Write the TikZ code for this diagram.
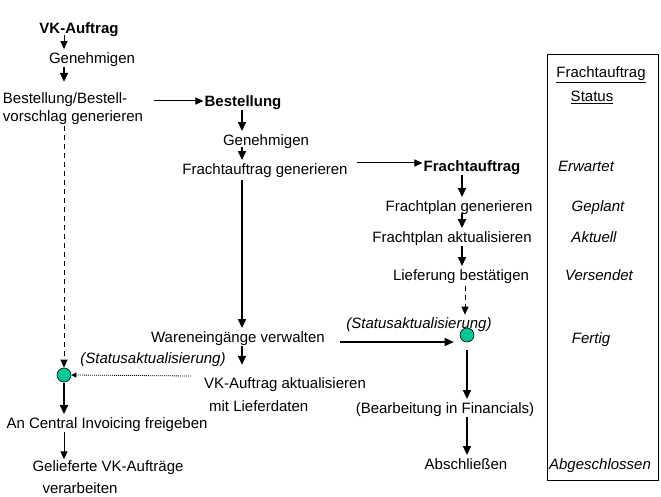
\documentclass[tikz,border=0pt]{standalone}
\usepackage{fontspec}
\setmainfont{Liberation Sans}
\usetikzlibrary{arrows.meta,calc}
\begin{document}
\begin{tikzpicture}[x=1pt,y=-1pt,
  every node/.style={font=\fontsize{15}{18}\selectfont, inner sep=1pt, text height=13.5pt, text depth=2pt},
  multi/.style={align=left, text height=, text depth=},
  bld/.style={font=\fontsize{15}{18}\selectfont\bfseries},
  itl/.style={font=\fontsize{15}{18}\selectfont\itshape},
  dot/.style={circle, fill={rgb,255:red,0;green,200;blue,150}, draw=black, line width=0.6pt, minimum size=14pt, inner sep=0pt, text height=, text depth=},
  arr/.style={line width=1.6pt, -{Triangle[width=8pt,length=9pt]}},
  sarr/.style={line width=1pt, -{Triangle[width=7pt,length=8pt]}},
  dasharr/.style={line width=1pt, dash pattern=on 5pt off 4pt, -{Triangle[width=7pt,length=8pt]}},
  dotarr/.style={line width=0.8pt, dash pattern=on 1pt off 1pt, -{Triangle[width=5pt,length=5pt]}}
]
\useasboundingbox (0,0) rectangle (661,497);
\coordinate (colA) at (64,0);
\coordinate (colB) at (242,0);
\coordinate (colC) at (462,0);

% left column
\node[bld] (vk) at (79,28) {VK-Auftrag};
\node (gen1) at (92,58) {Genehmigen};
\node[multi] (best) at (73,109) {Bestellung/Bestell-\\vorschlag generieren};
\node[dot] (c1) at (64,375) {};
\node (ci) at (107,423) {An Central Invoicing freigeben};
\node[multi] (gv) at (108,477) {Gelieferte VK-Aufträge\\[4pt]\hspace*{10pt}verarbeiten};

% middle column
\node[bld] (bst) at (243,101) {Bestellung};
\node (gen2) at (266,140) {Genehmigen};
\node (fg) at (265,169) {Frachtauftrag generieren};
\node (we) at (238,337) {Wareneingänge verwalten};
\node[multi] (vka) at (285,395) {VK-Auftrag aktualisieren\\[5pt]\hspace*{5pt}mit Lieferdaten};
\node[itl] (sl1) at (153,358) {(Statusaktualisierung)};

% right column
\node[bld] (fa) at (472,166) {Frachtauftrag};
\node (fpg) at (459,206) {Frachtplan generieren};
\node (fpa) at (452,237) {Frachtplan aktualisieren};
\node (lb) at (461,275) {Lieferung bestätigen};
\node[itl] (sl2) at (419,323) {(Statusaktualisierung)};
\node[dot] (c2) at (467,335) {};
\node (bf) at (445,408) {(Bearbeitung in Financials)};
\node (ab) at (466,464) {Abschließen};

% status box
\node[draw, line width=1pt, minimum width=111pt, minimum height=425pt, inner sep=0pt, text height=, text depth=] (box) at (602.5,267.5) {};
\node (sh1) at (601,72) {\underline{Frachtauftrag}};
\node (sh2) at (592,96) {\underline{Status}};
\node[itl] (s1) at (586,166) {Erwartet};
\node[itl] (s2) at (598,206) {Geplant};
\node[itl] (s3) at (594,237) {Aktuell};
\node[itl] (s4) at (599,275) {Versendet};
\node[itl] (s5) at (591,338) {Fertig};
\node[itl] (s6) at (600,464) {Abgeschlossen};

% left connectors
\draw[sarr, shorten <=-2pt] (vk.south -| colA) -- (gen1.north -| colA);
\draw[arr, shorten >=10pt] (gen1.south -| colA) -- (best.north -| colA);
\draw[dasharr] (best.south -| colA) -- (c1.north);
\draw[arr, shorten <=1pt] (c1.south) -- (ci.north -| colA);
\draw[sarr] (ci.south -| colA) -- (gv.north -| colA);

% middle connectors
\coordinate (h0) at ($(best.east)+(10,-8)$);
\draw[sarr] (h0) -- (h0 -| bst.west);
\draw[arr] (bst.south -| colB) -- (gen2.north -| colB);
\draw[arr, shorten <=-2pt] (gen2.south -| colB) -- (fg.north -| colB);
\coordinate (h1) at ($(fg.east)+(8,-6)$);
\draw[sarr] (h1) -- (h1 -| fa.west);
\draw[arr, shorten <=2pt] (fg.south -| colB) -- (we.north -| colB);
\draw[arr, shorten >=12pt] (we.south -| colB) -- (vka.north -| colB);
\draw[dotarr] ($(c1 -| vka.west)+(-12,1)$) -- (c1.east);
\coordinate (h2) at ($(we.east)+(14,5)$);
\draw[arr, shorten >=6pt] (h2) -- (h2 -| c2.west);

% right connectors
\draw[arr] (fa.south -| colC) -- (fpg.north -| colC);
\draw[arr, shorten <=-2pt] (fpg.south -| colC) -- (fpa.north -| colC);
\draw[arr] (fpa.south -| colC) -- (lb.north -| colC);
\draw[dasharr, shorten <=2pt, shorten >=13pt] ($(lb.south -| colC)+(3,0)$) -- ($(c2.north -| colC)+(3,0)$);
\draw[arr, shorten <=8pt] (c2.south) -- (bf.north -| c2);
\draw[arr] (bf.south -| c2) -- (ab.north -| c2);
\end{tikzpicture}
\end{document}
